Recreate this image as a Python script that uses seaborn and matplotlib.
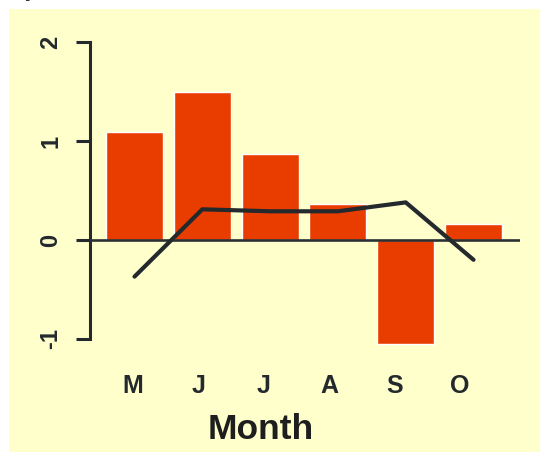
import matplotlib
matplotlib.use("Agg")
import matplotlib.pyplot as plt
import numpy as np
import pandas as pd
import seaborn as sns
from matplotlib.patches import Rectangle

# --------------------------------------------------------------
# Data
# --------------------------------------------------------------
months = ["May", "Jun", "Jul", "Aug", "Sep", "Oct"]
month_labels = ["M", "J", "J", "A", "S", "O"]
bar_values = [1.09, 1.49, 0.87, 0.36, -1.05, 0.16]
line_values = [-0.37, 0.31, 0.29, 0.29, 0.38, -0.20]
y_ticks = [-1, 0, 1, 2]

# --------------------------------------------------------------
# Styling
# --------------------------------------------------------------
BAR = "#E93D00"
DARK = "#23292D"
PANEL = "#FFFFCC"

sns.set_theme(style="white")
plt.rcParams["font.family"] = ["Liberation Sans", "DejaVu Sans"]
plt.rcParams["font.weight"] = "bold"

fig = plt.figure(figsize=(5.42, 4.57), dpi=100, facecolor="white")

# pale yellow panel behind everything
fig.patches.append(
    Rectangle((9 / 542, 5 / 457), 531 / 542, 443 / 457,
              transform=fig.transFigure, facecolor=PANEL, edgecolor="none", zorder=-1)
)

ax = fig.add_axes([0.1661, 0.2149, 0.7934, 0.7365])
ax.set_zorder(1)
ax.set_facecolor("none")

df = pd.DataFrame({"month": months, "value": bar_values})
sns.barplot(data=df, x="month", y="value", color=BAR, saturation=1,
            width=0.84, ax=ax, zorder=2)

ax.axhline(0, color="#2A3033", linewidth=1.9, zorder=3)

sns.lineplot(x=np.arange(len(line_values)), y=line_values, color=DARK,
             linewidth=3.0, ax=ax, zorder=4, solid_capstyle="round")

ax.set_xlim(-0.656, 5.686)
ax.set_ylim(-1.2, 2.2)

# axes: R-style y axis only
for side in ["top", "right", "bottom"]:
    ax.spines[side].set_visible(False)
ax.spines["left"].set_bounds(-1, 2)
ax.spines["left"].set_linewidth(2.2)
ax.spines["left"].set_color(DARK)

ax.set_yticks(y_ticks)
ax.set_yticklabels([str(t) for t in y_ticks], rotation=90, va="center",
                   fontsize=17, fontweight="bold", color=DARK)
ax.tick_params(axis="y", left=True, length=10, width=2.2, color=DARK, pad=10)

label_pos = np.arange(len(month_labels)) * 0.964 - 0.02
ax.set_xticks(label_pos)
ax.set_xticklabels(month_labels, fontsize=18, fontweight="bold", color=DARK)
ax.tick_params(axis="x", bottom=False, length=0, pad=11)

ax.set_xlabel("")
ax.set_ylabel("")
ax.grid(False)

fig.text(261 / 542, 1 - 439 / 457, "Month", ha="center", va="baseline",
         fontsize=25.5, fontweight="bold", color="#1E1E1E")

# clipped remnant of text above the panel
fig.text(30 / 542, 1 + 3 / 457, "y", ha="center", va="baseline",
         fontsize=14, fontweight="bold", color=DARK)

fig.savefig("out.png", dpi=100, facecolor="white")
